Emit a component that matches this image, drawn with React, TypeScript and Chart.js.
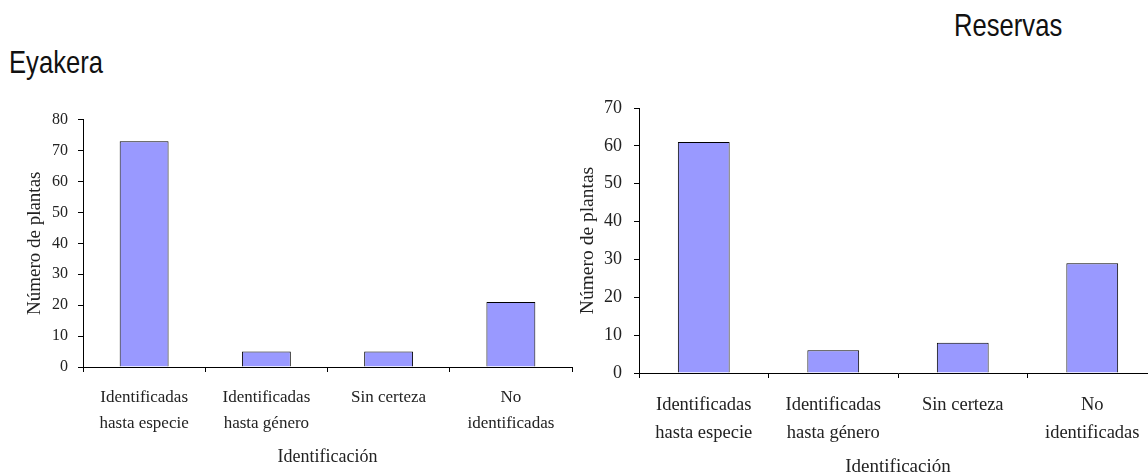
import React, { useEffect, useRef } from "react";
import { Chart, registerables } from "chart.js";

Chart.register(...registerables);

// ---- data ----
const categories: string[][] = [
  ["Identificadas", "hasta especie"],
  ["Identificadas", "hasta género"],
  ["Sin certeza"],
  ["No", "identificadas"],
];
const eyakeraValues = [73, 5, 5, 21];
const reservasValues = [61, 6, 8, 29];
const eyakeraMax = 80;
const reservasMax = 70;
const tickStep = 10;
const xTitle = "Identificación";
const yTitle = "Número de plantas";
const eyakeraTitle = "Eyakera";
const reservasTitle = "Reservas";

const SERIF = "'Liberation Serif', 'Times New Roman', serif";
const TEXT = "#222";

type Cfg = {
  values: number[];
  max: number;
  tickSize: number;
  labelSize: number;
  labelLH: number;
  labelPad: number;
  xTitleSize: number;
  yTitleSize: number;
  yTitlePad: { top: number; bottom: number };
  xTitlePad: { top: number; bottom: number };
  yTickPad: number;
  yWidth: number;
  xHeight: number;
  layoutPad: { top: number; right: number; bottom: number; left: number };
};

function BarChart({ cfg, style }: { cfg: Cfg; style: React.CSSProperties }) {
  const ref = useRef<HTMLCanvasElement | null>(null);
  useEffect(() => {
    if (!ref.current) return;
    const chart = new Chart(ref.current, {
      type: "bar",
      data: {
        labels: categories,
        datasets: [
          {
            data: cfg.values,
            backgroundColor: "#9999FF",
            borderColor: "#000",
            borderWidth: 1,
            barPercentage: 0.4,
            categoryPercentage: 1,
          },
        ],
      },
      options: {
        animation: false,
        responsive: false,
        maintainAspectRatio: false,
        layout: { padding: cfg.layoutPad },
        plugins: { legend: { display: false }, tooltip: { enabled: false } },
        scales: {
          x: {
            afterFit: (s: any) => {
              s.height = cfg.xHeight;
            },
            grid: {
              offset: true,
              drawOnChartArea: false,
              drawTicks: true,
              tickLength: 5,
              color: "#000",
              lineWidth: 1,
            },
            border: { color: "#000", width: 1 },
            ticks: {
              color: TEXT,
              font: { family: SERIF, size: cfg.labelSize, lineHeight: cfg.labelLH / cfg.labelSize },
              padding: cfg.labelPad,
              maxRotation: 0,
              autoSkip: false,
            },
            title: {
              display: true,
              text: xTitle,
              color: TEXT,
              font: { family: SERIF, size: cfg.xTitleSize, lineHeight: 1.2 },
              padding: cfg.xTitlePad,
            },
          },
          y: {
            min: 0,
            max: cfg.max,
            afterFit: (s: any) => {
              s.width = cfg.yWidth;
            },
            grid: {
              drawOnChartArea: false,
              drawTicks: true,
              tickLength: 5,
              color: "#000",
              lineWidth: 1,
            },
            border: { color: "#000", width: 1 },
            ticks: {
              stepSize: tickStep,
              color: TEXT,
              font: { family: SERIF, size: cfg.tickSize, lineHeight: 1.2 },
              padding: cfg.yTickPad,
            },
            title: {
              display: true,
              text: yTitle,
              color: TEXT,
              font: { family: SERIF, size: cfg.yTitleSize, lineHeight: 1.2 },
              padding: cfg.yTitlePad,
            },
          },
        },
      },
    });
    return () => chart.destroy();
  }, []);
  const w = style.width as number;
  const h = style.height as number;
  return <canvas ref={ref} width={w} height={h} style={{ position: "absolute", ...style }} />;
}

const leftCfg: Cfg = {
  values: eyakeraValues,
  max: eyakeraMax,
  tickSize: 16,
  labelSize: 17,
  labelLH: 26,
  labelPad: 13,
  xTitleSize: 18,
  yTitleSize: 19,
  yTitlePad: { top: 23.6, bottom: 0 },
  xTitlePad: { top: 0, bottom: 7.2 },
  yTickPad: 10,
  yWidth: 83,
  xHeight: 108,
  layoutPad: { top: 19, right: 8, bottom: 0, left: 0 },
};

const rightCfg: Cfg = {
  values: reservasValues,
  max: reservasMax,
  tickSize: 18,
  labelSize: 18.5,
  labelLH: 28,
  labelPad: 13,
  xTitleSize: 19,
  yTitleSize: 19.5,
  yTitlePad: { top: 16.3, bottom: 0 },
  xTitlePad: { top: 0, bottom: 1.6 },
  yTickPad: 12,
  yWidth: 79,
  xHeight: 107,
  layoutPad: { top: 28, right: 3, bottom: 0, left: 0 },
};

const headStyle: React.CSSProperties = {
  position: "absolute",
  fontFamily: "'Liberation Sans', Arial, sans-serif",
  fontSize: 30.5,
  lineHeight: "30.5px",
  color: "#111",
  whiteSpace: "nowrap",
  transform: "scaleX(0.84)",
  transformOrigin: "left top",
};

export default function App() {
  return (
    <div
      style={{
        position: "fixed",
        left: 0,
        top: 0,
        width: 1148,
        height: 475,
        overflow: "hidden",
        background: "#fff",
      }}
    >
      <div style={{ ...headStyle, left: 954, top: 10 }}>{reservasTitle}</div>
      <div style={{ ...headStyle, left: 9, top: 47 }}>{eyakeraTitle}</div>
      <BarChart cfg={leftCfg} style={{ left: 0, top: 100, width: 580, height: 375 }} />
      <BarChart cfg={rightCfg} style={{ left: 560, top: 80, width: 600, height: 400 }} />
    </div>
  );
}
